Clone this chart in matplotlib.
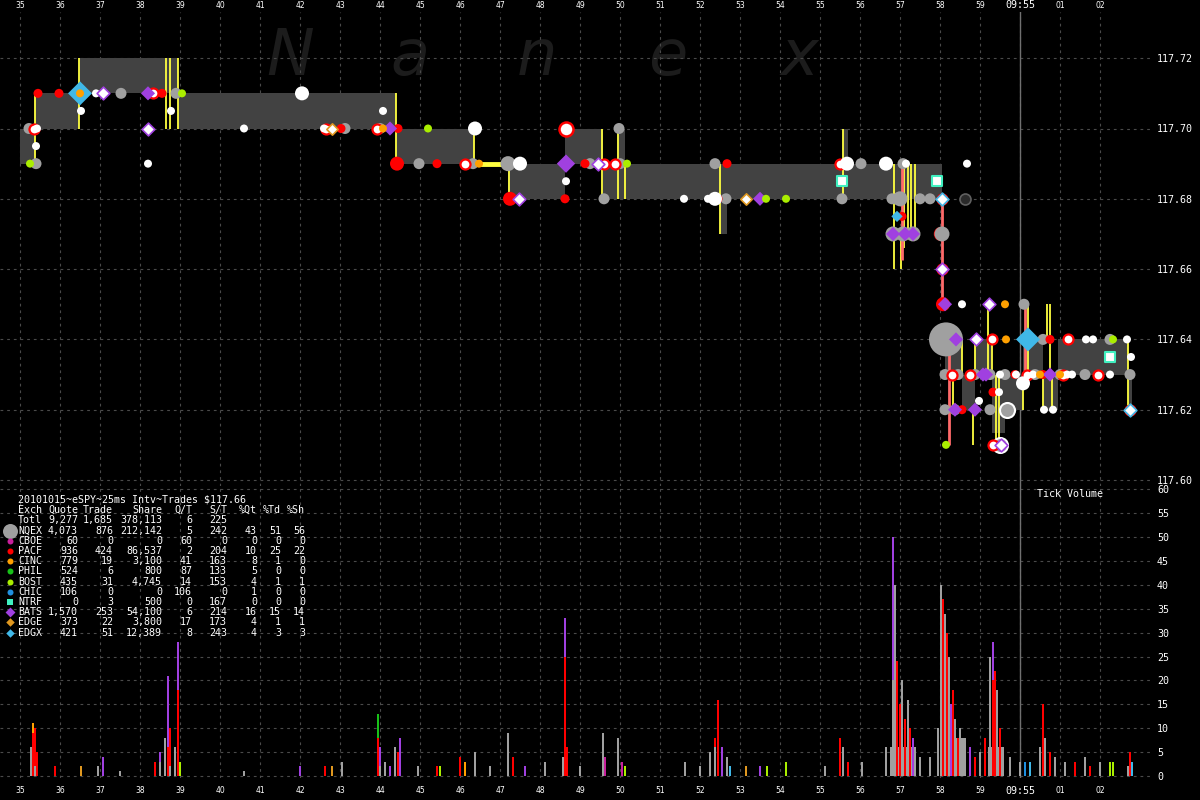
import matplotlib
matplotlib.use("Agg")
import matplotlib.pyplot as plt

# ---------------- data ----------------
title_line = "20101015~eSPY~25ms Intv~Trades $117.66"
tbl_header = ["Exch", "Quote", "Trade", "Share", "Q/T", "S/T", "%Qt", "%Td", "%Sh"]
tbl_exch = ["Totl", "NQEX", "CBOE", "PACF", "CINC", "PHIL", "BOST", "CHIC", "NTRF", "BATS", "EDGE", "EDGX"]
tbl_quote = ["9,277", "4,073", "60", "936", "779", "524", "435", "106", "0", "1,570", "373", "421"]
tbl_trade = ["1,685", "876", "0", "424", "19", "6", "31", "0", "3", "253", "22", "51"]
tbl_share = ["378,113", "212,142", "0", "86,537", "3,100", "800", "4,745", "0", "500", "54,100", "3,800", "12,389"]
tbl_qt = ["6", "5", "60", "2", "41", "87", "14", "106", "0", "6", "17", "8"]
tbl_st = ["225", "242", "0", "204", "163", "133", "153", "0", "167", "214", "173", "243"]
tbl_pqt = ["", "43", "0", "10", "8", "5", "4", "1", "0", "16", "4", "4"]
tbl_ptd = ["", "51", "0", "25", "1", "0", "1", "0", "0", "15", "1", "3"]
tbl_psh = ["", "56", "0", "22", "0", "0", "1", "0", "0", "14", "1", "3"]

sec_ticks = list(range(35, 63))
sec_labels = [str(s) for s in range(35, 60)] + ["09:55", "01", "02"]
price_ticks = [117.60, 117.62, 117.64, 117.66, 117.68, 117.70, 117.72]
vol_ticks = list(range(0, 61, 5))

# NBBO (bid/ask) segments, seconds after 09:54:00
nbbo_t0 = [35.0, 35.375, 36.475, 38.95, 44.4, 47.2, 48.625, 49.575, 49.925, 50.125, 52.5, 52.675, 55.575, 55.7,
           58.125, 58.55, 58.875, 59.3, 59.625, 60.075, 60.575, 60.95, 62.7]
nbbo_t1 = [35.375, 36.475, 38.95, 44.4, 46.35, 48.625, 49.575, 49.925, 50.125, 52.5, 52.675, 55.575, 55.7, 58.05,
           58.55, 58.875, 59.3, 59.625, 60.075, 60.575, 60.95, 62.7, 62.8]
nbbo_bid = [117.69, 117.70, 117.71, 117.70, 117.69, 117.68, 117.69, 117.68, 117.68, 117.68, 117.67, 117.68, 117.68, 117.68,
            117.63, 117.62, 117.63, 117.6135, 117.62, 117.63, 117.62, 117.63, 117.62]
nbbo_ask = [117.70, 117.71, 117.72, 117.71, 117.70, 117.69, 117.70, 117.69, 117.70, 117.69, 117.69, 117.69, 117.70, 117.69,
            117.64, 117.63, 117.64, 117.63, 117.63, 117.64, 117.63, 117.64, 117.63]
locked_t0, locked_t1, locked_p = 46.35, 47.2, 117.69

# trades (vertical ranges)
trd_t = [35.375, 36.475, 38.64, 38.75, 38.95, 44.4, 46.35, 47.225, 49.54, 49.94, 50.125, 52.5, 55.575, 56.85, 57.025,
         57.1, 57.2, 57.275, 57.375, 58.325, 58.55, 58.825, 58.875, 59.2, 59.3, 59.4, 59.475, 60.075, 60.2, 60.575,
         60.675, 60.75, 60.8, 62.7]
trd_lo = [117.69, 117.70, 117.70, 117.70, 117.70, 117.69, 117.69, 117.68, 117.68, 117.68, 117.68, 117.67, 117.68, 117.66,
          117.66, 117.666, 117.67, 117.67, 117.67, 117.62, 117.63, 117.61, 117.63, 117.63, 117.63, 117.61, 117.61, 117.62,
          117.63, 117.62, 117.64, 117.63, 117.62, 117.62]
trd_hi = [117.71, 117.72, 117.72, 117.72, 117.72, 117.71, 117.70, 117.69, 117.70, 117.70, 117.69, 117.69, 117.70, 117.69,
          117.67, 117.69, 117.69, 117.69, 117.69, 117.63, 117.64, 117.62, 117.64, 117.65, 117.64, 117.63, 117.63, 117.627,
          117.65, 117.63, 117.65, 117.65, 117.63, 117.64]
thru_t = [57.05, 58.05, 58.225, 60.125]
thru_lo = [117.6625, 117.65, 117.61, 117.63]
thru_hi = [117.69, 117.68, 117.64, 117.65]

# quotes by exchange
nqex_t = [35.225, 35.4, 37.525, 38.9, 43.125, 44.0, 44.975, 46.325, 49.25, 49.975, 50.0, 49.6, 52.375, 52.65, 55.55,
          56.025, 57.075, 56.8, 57.0, 57.5, 57.75, 60.1, 60.575, 62.25,
          58.125, 58.45, 58.875, 59.25, 59.625, 60.375, 61.0, 61.625, 62.75, 58.125, 58.375, 59.25]
nqex_p = [117.70, 117.69, 117.71, 117.71, 117.70, 117.70, 117.69, 117.69, 117.69, 117.70, 117.69, 117.68, 117.69, 117.68,
          117.68, 117.69, 117.69, 117.68, 117.68, 117.68, 117.68, 117.65, 117.64, 117.64,
          117.63, 117.63, 117.63, 117.63, 117.63, 117.63, 117.63, 117.63, 117.63, 117.62, 117.62, 117.62]
nqex_big_t = [47.2, 56.825, 57.075, 57.325, 58.05, 57.0]
nqex_big_p = [117.69, 117.67, 117.67, 117.67, 117.67, 117.68]
nqex_ring_t = [59.675, 59.5]
nqex_ring_p = [117.62, 117.61]
nqex_huge_t = [58.15]
nqex_huge_p = [117.64]
nqex_dark_t = [58.625]
nqex_dark_p = [117.68]

pacf_t = [35.45, 35.975, 38.55, 43.025, 44.45, 45.425, 48.625, 49.125, 52.675, 52.45, 57.05, 60.75, 59.325, 58.55,
          60.575, 59.875]
pacf_p = [117.71, 117.71, 117.71, 117.70, 117.70, 117.69, 117.68, 117.69, 117.69, 117.68, 117.675, 117.64, 117.625,
          117.62, 117.63, 117.63]
pacf_big_t = [44.425, 47.25, 58.075, 58.02]
pacf_big_p = [117.69, 117.68, 117.65, 117.67]
pacf_ring_t = [35.35, 38.325, 42.65, 43.925, 46.125, 49.6, 49.875, 55.5, 58.05, 58.05, 59.3, 61.2, 62.75, 59.325,
               58.3, 58.75, 60.175, 61.075, 61.95]
pacf_ring_p = [117.70, 117.71, 117.70, 117.70, 117.69, 117.69, 117.69, 117.69, 117.68, 117.66, 117.64, 117.64, 117.62,
               117.61, 117.63, 117.63, 117.63, 117.63, 117.63]
pacf_ring_big_t = [48.65]
pacf_ring_big_p = [117.70]

other_t = [36.9, 36.525, 38.775, 35.425, 35.4, 38.2, 40.6, 42.6, 44.075, 48.65, 51.6, 52.2, 55.6, 57.15, 58.675,
           58.55, 61.65, 61.825, 62.675, 62.775, 58.975, 59.475, 60.6, 60.825, 59.5, 59.9, 60.325, 61.175, 61.3, 62.25]
other_p = [117.71, 117.705, 117.705, 117.70, 117.695, 117.69, 117.70, 117.70, 117.705, 117.685, 117.68, 117.68, 117.685,
           117.69, 117.69, 117.65, 117.64, 117.64, 117.64, 117.635, 117.6225, 117.625, 117.62, 117.62, 117.63, 117.63,
           117.63, 117.63, 117.63, 117.63]
other_big_t = [42.05, 46.375, 47.5, 52.375, 56.65, 60.075, 55.675]
other_big_p = [117.71, 117.70, 117.69, 117.68, 117.69, 117.6275, 117.69]

bats_t = [38.2, 44.25, 53.5, 56.825, 57.125, 57.325, 58.4, 58.125, 59.075, 59.15, 60.75, 58.875, 58.375]
bats_p = [117.71, 117.70, 117.68, 117.67, 117.67, 117.67, 117.64, 117.65, 117.63, 117.63, 117.63, 117.62, 117.62]
bats_big_t = [48.65]
bats_big_p = [117.69]
bats_open_t = [37.075, 38.2, 47.475, 49.45, 59.225, 58.9, 58.05, 59.525]
bats_open_p = [117.71, 117.70, 117.68, 117.69, 117.65, 117.64, 117.66, 117.61]

cinc_t = [36.5, 44.075, 46.475, 59.625, 59.65, 60.5, 61.0]
cinc_p = [117.71, 117.70, 117.69, 117.65, 117.64, 117.63, 117.63]
bost_t = [35.25, 39.05, 45.2, 50.175, 53.65, 54.15, 58.15, 62.325]
bost_p = [117.69, 117.71, 117.70, 117.69, 117.68, 117.68, 117.61, 117.64]
edgx_big_t = [36.5, 60.2]
edgx_big_p = [117.71, 117.64]
edgx_t = [56.925]
edgx_p = [117.675]
edgx_open_t = [58.05, 62.75]
edgx_open_p = [117.68, 117.62]
edge_open_t = [42.8, 53.15]
edge_open_p = [117.70, 117.68]
ntrf_t = [55.55, 57.925, 62.25]
ntrf_p = [117.685, 117.685, 117.635]

# tick volume (stacked by exchange)
vol_t = [35.275, 35.325, 35.375, 35.425, 35.875, 36.525, 36.95, 37.075, 37.5, 38.375, 38.5, 38.625, 38.7, 38.75,
         38.875, 38.95, 39.0, 40.6, 42.0, 42.625, 42.8, 43.05, 43.95, 44.0, 44.125, 44.25, 44.375, 44.45, 44.5, 44.95,
         45.425, 45.5, 46.0, 46.125, 46.375, 46.75, 47.2, 47.325, 47.625, 48.125, 48.575, 48.625, 48.675, 49.0,
         49.575, 49.625, 49.95, 50.05, 50.125, 51.625, 52.0, 52.25, 52.375, 52.45, 52.55, 52.675, 52.75, 53.15, 53.5,
         53.675, 54.15, 55.125, 55.5, 55.575, 55.7, 56.05, 56.65, 56.825, 56.875, 56.925, 57.0, 57.05, 57.125, 57.2,
         57.25, 57.325, 57.5, 57.75, 57.95, 58.025, 58.075, 58.125, 58.175, 58.225, 58.275, 58.325, 58.375, 58.45,
         58.5, 58.75, 58.875, 59.0, 59.125, 59.25, 59.325, 59.375, 59.425, 59.5, 59.575, 59.75, 60.0, 60.125, 60.25,
         60.5, 60.575, 60.625, 60.75, 60.875, 61.125, 61.375, 61.625, 61.75, 62.0, 62.25, 62.325, 62.7, 62.75, 62.8]
vol_nqex = [6, 0, 2, 0, 0, 0, 2, 0, 1, 0, 3, 8, 0, 2,
            6, 0, 0, 1, 0, 0, 0, 3, 0, 2, 3, 0, 6, 0, 0, 2,
            0, 0, 0, 0, 5, 2, 9, 0, 0, 3, 4, 0, 0, 2,
            9, 0, 8, 0, 0, 3, 2, 5, 6, 0, 0, 4, 0, 0, 0,
            0, 0, 2, 0, 6, 0, 3, 6, 20, 40, 0, 0, 20, 0, 16,
            0, 0, 4, 4, 10, 40, 0, 34, 0, 25, 0, 0, 12, 0,
            10, 0, 0, 5, 0, 25, 0, 0, 18, 0, 6, 4, 3, 0, 0,
            6, 0, 8, 0, 4, 3, 0, 4, 0, 3, 0, 0, 2, 0, 0]
vol_pacf = [0, 9, 8, 5, 2, 0, 0, 0, 0, 3, 0, 0, 6, 8,
            0, 18, 0, 0, 0, 2, 0, 0, 8, 0, 0, 0, 0, 5, 0, 0,
            2, 0, 4, 0, 0, 0, 0, 4, 0, 0, 0, 25, 6, 0,
            0, 0, 0, 0, 0, 0, 0, 0, 2, 16, 0, 0, 0, 0, 0,
            0, 0, 0, 8, 0, 3, 0, 0, 0, 0, 24, 15, 0, 12, 0,
            10, 0, 0, 0, 0, 0, 37, 0, 30, 0, 0, 18, 0, 8,
            0, 0, 4, 0, 8, 0, 20, 22, 0, 10, 0, 0, 0, 0, 0,
            0, 15, 0, 5, 0, 0, 3, 0, 2, 0, 0, 0, 0, 5, 0]
vol_bats = [0, 0, 0, 0, 0, 0, 0, 4, 0, 0, 2, 0, 15, 0,
            0, 10, 0, 0, 2, 0, 0, 0, 0, 4, 0, 2, 0, 0, 8, 0,
            0, 0, 0, 0, 0, 0, 0, 0, 2, 0, 0, 8, 0, 0,
            0, 0, 0, 0, 0, 0, 0, 0, 0, 0, 6, 0, 0, 0, 2,
            0, 0, 0, 0, 0, 0, 0, 0, 30, 0, 0, 0, 0, 0, 0,
            0, 8, 0, 0, 0, 0, 0, 0, 0, 0, 15, 0, 0, 0,
            0, 6, 0, 0, 0, 0, 8, 0, 0, 0, 0, 0, 0, 0, 0,
            0, 0, 0, 0, 0, 0, 0, 0, 0, 0, 0, 0, 0, 0, 0]
vol_misc = [0, 2, 0, 0, 0, 2, 0, 0, 0, 0, 0, 0, 0, 0,
            0, 0, 3, 0, 0, 0, 2, 0, 5, 0, 0, 0, 0, 0, 0, 0,
            0, 2, 0, 3, 0, 0, 0, 0, 0, 0, 0, 0, 0, 0,
            0, 4, 0, 3, 2, 0, 0, 0, 0, 0, 0, 0, 2, 2, 0,
            2, 3, 0, 0, 0, 0, 0, 0, 0, 0, 0, 0, 0, 0, 0,
            0, 0, 0, 0, 0, 0, 0, 0, 0, 0, 0, 0, 0, 0,
            0, 0, 0, 0, 0, 0, 0, 0, 0, 0, 0, 0, 0, 3, 3,
            0, 0, 0, 0, 0, 0, 0, 0, 0, 0, 3, 3, 0, 0, 3]
vol_misc_ex = ["", "CINC", "", "", "", "EDGE", "", "", "", "", "", "", "", "",
               "", "", "BOST", "", "", "", "EDGE", "", "PHIL", "", "", "", "", "", "", "",
               "", "BOST", "", "CINC", "", "", "", "", "", "", "", "", "", "",
               "", "CBOE", "", "CBOE", "BOST", "", "", "", "", "", "", "", "EDGX", "EDGE", "",
               "BOST", "BOST", "", "", "", "", "", "", "", "", "", "", "", "", "",
               "", "", "", "", "", "", "", "", "", "", "", "", "", "",
               "", "", "", "", "", "", "", "", "", "", "", "", "", "CHIC", "EDGX",
               "", "", "", "", "", "", "", "", "", "", "BOST", "BOST", "", "", "EDGX"]
# dense bursts of small NQEX prints
blk_t0 = [56.75, 58.0, 59.2]
blk_t1 = [57.4, 58.65, 59.6]
blk_h = [6, 8, 6]

# ---------------- style ----------------
W, H = 1200, 800
C = {"NQEX": "#a0a0a0", "CBOE": "#c8209c", "PACF": "#ff0000", "CINC": "#ffa000", "PHIL": "#18c018",
     "BOST": "#aaee00", "CHIC": "#2090e0", "NTRF": "#40f0c0", "BATS": "#a040e0", "EDGE": "#e09820",
     "EDGX": "#40b8e8"}
BAND = "#424242"
GRID = "#4a4a4a"
YEL = "#ffff40"
MONO = "DejaVu Sans Mono"

fig = plt.figure(figsize=(12, 8), dpi=100, facecolor="black")


def px_axes(x0, y0, x1, y1):
    return fig.add_axes([x0 / W, 1 - y1 / H, (x1 - x0) / W, (y1 - y0) / H])


def ppx(d):  # pixel diameter -> scatter size
    return (d * 0.72) ** 2


T0, T1 = 34.5, 63.25
axp = px_axes(0, 12, 1150, 486)
axv = px_axes(0, 486, 1150, 778)
for ax in (axp, axv):
    ax.set_facecolor("black")
    for s in ax.spines.values():
        s.set_visible(False)
    ax.set_xlim(T0, T1)
    ax.set_xticks(sec_ticks)
    ax.grid(True, color=GRID, linestyle=(0, (2.5, 3.5)), linewidth=0.8, zorder=0)
    ax.set_axisbelow(True)
    ax.yaxis.tick_right()
    ax.tick_params(axis="y", length=0, pad=5, labelsize=7.2, labelcolor="white")
    for lab in ax.get_yticklabels():
        lab.set_family(MONO)
    ax.axvline(60, color="#707070", lw=1, zorder=1)

axp.set_ylim(117.60 + (480 - 486) / 3515, 117.60 + (480 - 12) / 3515)
axp.set_yticks(price_ticks)
axp.set_yticklabels(["%.2f" % p for p in price_ticks], family=MONO)
axp.xaxis.tick_top()
axp.set_xticklabels(sec_labels)
axp.tick_params(axis="x", length=0, pad=1.8, labelsize=5.5, labelcolor="white")

axv.set_ylim((776 - 778) / 4.778, (776 - 486) / 4.778)
axv.set_yticks(vol_ticks)
axv.set_yticklabels([str(v) for v in vol_ticks], family=MONO)
axv.set_xticklabels(sec_labels)
axv.tick_params(axis="x", length=0, pad=6, labelsize=5.5, labelcolor="white")
for ax in (axp, axv):
    for lab in ax.get_xticklabels():
        if lab.get_text() == "09:55":
            lab.set_fontsize(7.2)
            lab.set_family(MONO)

# watermark
for ch, xx in zip("Nanex", [290, 410, 537, 668, 800]):
    axp.text(xx / W, 1 - 75 / H, ch, transform=fig.transFigure, fontsize=46, style="italic",
             color="#1c1c1c", ha="center", va="baseline", zorder=0.5, family="DejaVu Sans")

# NBBO band
for t0, t1, b, a in zip(nbbo_t0, nbbo_t1, nbbo_bid, nbbo_ask):
    axp.fill_between([t0, t1], [b, b], [a, a], color=BAND, lw=0, zorder=1)
axp.plot([locked_t0, locked_t1], [locked_p, locked_p], color=YEL, lw=3.5, zorder=2, solid_capstyle="butt")

# trades
axp.vlines(trd_t, trd_lo, trd_hi, color=YEL, lw=1.3, zorder=2)
axp.vlines(thru_t, thru_lo, thru_hi, color="#ff6a6a", lw=2, zorder=2)


def sc(t, p, d, fc, ec="none", m="o", lw=1.3, z=3):
    axp.scatter(t, p, s=ppx(d), c=fc, edgecolors=ec, marker=m, linewidths=lw, zorder=z)


sc(nqex_huge_t, nqex_huge_p, 34, C["NQEX"])
sc(pacf_big_t, pacf_big_p, 14, C["PACF"])
sc(nqex_big_t, nqex_big_p, 15, C["NQEX"], z=3.1)
sc(nqex_t, nqex_p, 11, C["NQEX"], z=3.1)
sc(nqex_ring_t, nqex_ring_p, 15, C["NQEX"], ec="white", lw=1.5, z=3.1)
sc(nqex_dark_t, nqex_dark_p, 11, "#2a2a2a", ec="#606060", lw=1.2)
sc(edgx_big_t, edgx_big_p, 17, C["EDGX"], m="D", z=3.2)
sc(pacf_t, pacf_p, 9, C["PACF"], z=3.3)
sc(pacf_ring_t, pacf_ring_p, 10, "white", ec=C["PACF"], lw=1.6, z=3.3)
sc(pacf_ring_big_t, pacf_ring_big_p, 14, "white", ec=C["PACF"], lw=1.8, z=3.3)
sc(other_t, other_p, 8, "white", z=3.4)
sc(other_big_t, other_big_p, 14, "white", z=3.4)
sc(bats_t, bats_p, 10, C["BATS"], m="D", z=3.5)
sc(bats_big_t, bats_big_p, 13, C["BATS"], m="D", z=3.5)
sc(bats_open_t, bats_open_p, 9, "white", ec=C["BATS"], m="D", lw=1.2, z=3.5)
sc(cinc_t, cinc_p, 8, C["CINC"], z=3.6)
sc(bost_t, bost_p, 8, C["BOST"], z=3.6)
sc(edgx_t, edgx_p, 8, C["EDGX"], m="D", z=3.6)
sc(edgx_open_t, edgx_open_p, 9, "white", ec=C["EDGX"], m="D", lw=1.2, z=3.7)
sc(edge_open_t, edge_open_p, 8, "white", ec=C["EDGE"], m="D", lw=1.2, z=3.7)
sc(ntrf_t, ntrf_p, 10, "white", ec=C["NTRF"], m="s", lw=1.5, z=3.7)

# volume
BW = 0.045
axv.bar(blk_t0, blk_h, width=[b - a for a, b in zip(blk_t0, blk_t1)], align="edge", color=C["NQEX"], lw=0, zorder=2)
axv.bar(vol_t, vol_nqex, width=BW, color=C["NQEX"], lw=0, zorder=2)
axv.bar(vol_t, vol_pacf, width=BW, bottom=vol_nqex, color=C["PACF"], lw=0, zorder=2)
base2 = [a + b for a, b in zip(vol_nqex, vol_pacf)]
axv.bar(vol_t, vol_bats, width=BW, bottom=base2, color=C["BATS"], lw=0, zorder=2)
base3 = [a + b for a, b in zip(base2, vol_bats)]
axv.bar(vol_t, vol_misc, width=BW, bottom=base3, color=[C.get(e, "black") for e in vol_misc_ex], lw=0, zorder=2)

fig.text(1037 / W, 1 - 494 / H, "Tick Volume", family=MONO, fontsize=7.2, color="white", va="center")

# statistics table
def ftxt(x, y, s, ha="left"):
    fig.text(x / W, 1 - y / H, s, family=MONO, fontsize=7.2, color="white", ha=ha, va="center")


ftxt(18, 500, title_line)
col_right = [78, 113, 162, 192, 227, 257, 281, 305]
y = 510.2
ftxt(18, y, tbl_header[0])
for xr, h in zip(col_right, tbl_header[1:]):
    ftxt(xr, y, h, ha="right")
cols = [tbl_quote, tbl_trade, tbl_share, tbl_qt, tbl_st, tbl_pqt, tbl_ptd, tbl_psh]
for i, ex in enumerate(tbl_exch):
    y = 520.4 + i * 10.2
    ftxt(18, y, ex)
    for xr, col in zip(col_right, cols):
        ftxt(xr, y, col[i], ha="right")

axo = fig.add_axes([0, 0, 1, 1])
axo.set_xlim(0, W)
axo.set_ylim(H, 0)
axo.axis("off")
leg_style = {"NQEX": ("o", 15), "CBOE": ("o", 6), "PACF": ("o", 6), "CINC": ("o", 6), "PHIL": ("o", 6),
             "BOST": ("o", 6), "CHIC": ("o", 6), "NTRF": ("s", 6), "BATS": ("D", 7), "EDGE": ("D", 6),
             "EDGX": ("D", 6)}
for i, ex in enumerate(tbl_exch):
    if ex in leg_style:
        m, d = leg_style[ex]
        axo.scatter([10], [520.4 + i * 10.2], s=ppx(d), marker=m, c=C[ex], lw=0)

fig.savefig("out.png", dpi=100, facecolor="black")
